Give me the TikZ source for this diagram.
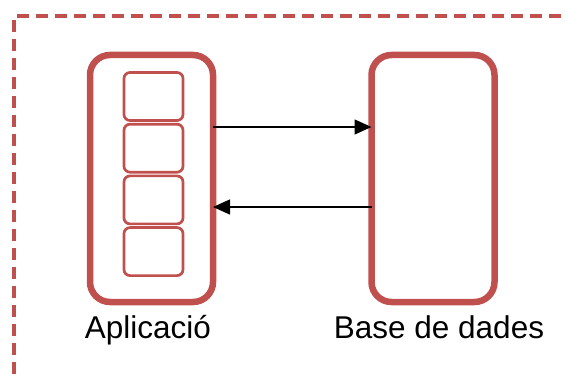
\documentclass[tikz,border=0pt]{standalone}
\usepackage{fontspec}
\setmainfont{Liberation Sans}
\usetikzlibrary{positioning,arrows.meta}
\definecolor{boxred}{HTML}{C0504D}

\begin{document}
\begin{tikzpicture}[x=1pt,y=-1pt]
      \tikzset{
        node distance=0pt,
        bigbox/.style={draw=boxred,line width=6.5pt,rounded corners=20pt,outer sep=0pt,
                       minimum width=123pt,minimum height=247pt},
        modbox/.style={draw=boxred,line width=2.7pt,rounded corners=6pt,
                       minimum width=59pt,minimum height=48pt},
        caption/.style={font=\fontsize{31.5}{36}\selectfont,inner sep=0pt},
        flow/.style={line width=1.4pt,-{Triangle[length=17pt,width=15pt]}}
      }
      \useasboundingbox (0,0) rectangle (565,374);

      % frame
      \draw[boxred,line width=3.2pt,dash pattern=on 12pt off 7pt] (14,374) -- (14,16) -- (565,16);

      \node[bigbox] (app) at (151.5,178.5) {};
      \node[bigbox] (db) at (433,178.5) {};

      \node[modbox] (m1) at (153.5,96.5) {};
      \node[modbox,below=1pt of m1] (m2) {};
      \node[modbox,below=1pt of m2] (m3) {};
      \node[modbox,below=1pt of m3] (m4) {};

      \node[caption,anchor=base] (lapp) at (148,338) {Aplicació};
      \node[caption,anchor=base] (ldb) at (439,338) {Base de dades};

      \draw[flow] ([yshift=51.5pt]app.east) -- ([yshift=51.5pt]db.west);
      \draw[flow] ([yshift=-28.5pt]db.west) -- ([yshift=-28.5pt]app.east);
\end{tikzpicture}
\end{document}
